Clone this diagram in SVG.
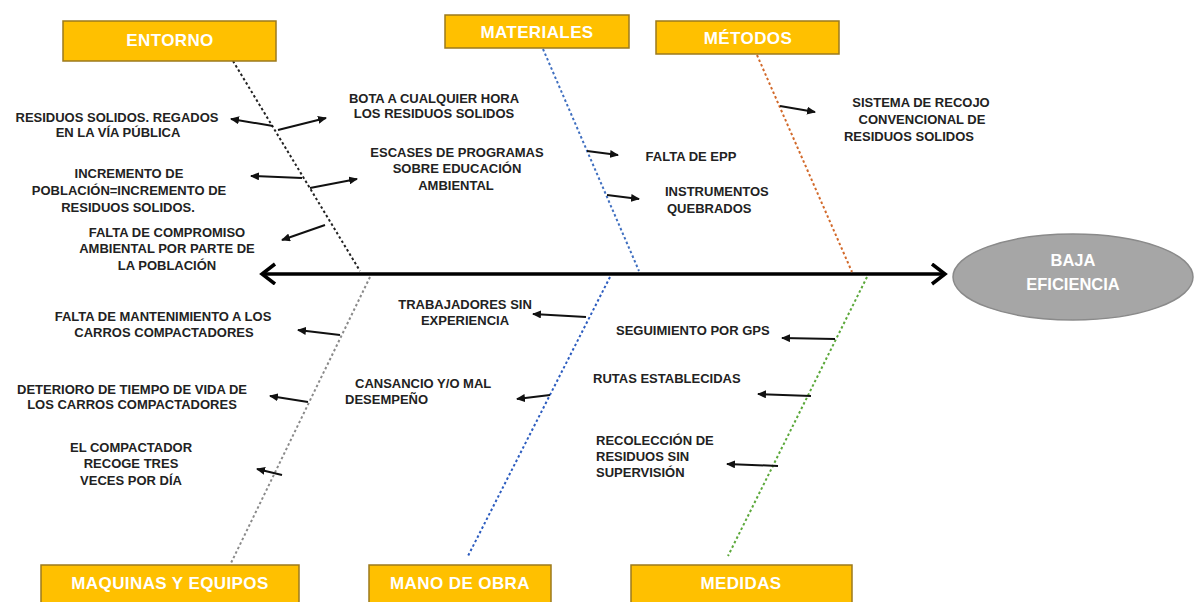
<svg xmlns="http://www.w3.org/2000/svg" width="1195" height="602" viewBox="0 0 1195 602">
<style>
.box{fill:#ffc000;stroke:#9c7a1c;stroke-width:1.5}
.hd{font-family:"Liberation Sans",Arial,sans-serif;font-weight:bold;font-size:17px;fill:#ffffff;text-anchor:middle;letter-spacing:0.4px}
.t{font-family:"Liberation Sans",Arial,sans-serif;font-weight:bold;font-size:13px;fill:#222222}
.c{text-anchor:middle}
.bone{fill:none;stroke-width:2;stroke-dasharray:2.5 2.5}
.arr{fill:none;stroke:#111;stroke-width:2;marker-end:url(#ah)}
.el{font-family:"Liberation Sans",Arial,sans-serif;font-weight:bold;font-size:16.5px;fill:#ffffff;text-anchor:middle}
</style>
<defs>
<marker id="ah" markerUnits="userSpaceOnUse" markerWidth="10" markerHeight="8" refX="8" refY="4" orient="auto">
<path d="M0,0 L9,4 L0,8 z" fill="#111"/>
</marker>
<marker id="big" markerUnits="userSpaceOnUse" markerWidth="20" markerHeight="26" refX="15" refY="11" orient="auto-start-reverse">
<path d="M2,1 L15,11 L2,21" fill="none" stroke="#000" stroke-width="3.5"/>
</marker>
</defs>
<rect width="1195" height="602" fill="#ffffff"/>

<g id="connectors">
<line x1="262" y1="274" x2="945" y2="274" stroke="#000" stroke-width="3.5" marker-start="url(#big)" marker-end="url(#big)"/>
<line class="bone" x1="233" y1="61" x2="360" y2="271" stroke="#222"/>
<line class="bone" x1="543" y1="49" x2="639" y2="271" stroke="#3f6fc0"/>
<line class="bone" x1="757" y1="55" x2="852" y2="272" stroke="#d2692a"/>
<line class="bone" x1="370" y1="277" x2="231" y2="563" stroke="#8a8a8a" stroke-width="1.6"/>
<line class="bone" x1="610" y1="277" x2="468" y2="556" stroke="#2c5cbf"/>
<line class="bone" x1="867" y1="277" x2="728" y2="556" stroke="#5ba83a"/>

<line class="arr" x1="273" y1="126" x2="231" y2="119"/>
<line class="arr" x1="278" y1="130" x2="326" y2="118"/>
<line class="arr" x1="302" y1="178" x2="251" y2="176"/>
<line class="arr" x1="310" y1="188" x2="357" y2="179"/>
<line class="arr" x1="325" y1="225" x2="282" y2="240"/>
<line class="arr" x1="587" y1="151" x2="618" y2="155"/>
<line class="arr" x1="607" y1="195" x2="639" y2="199"/>
<line class="arr" x1="780" y1="106" x2="815" y2="112"/>
<line class="arr" x1="340" y1="335" x2="298" y2="330"/>
<line class="arr" x1="308" y1="402" x2="270" y2="396"/>
<line class="arr" x1="282" y1="475" x2="257" y2="469"/>
<line class="arr" x1="586" y1="317" x2="533" y2="314"/>
<line class="arr" x1="550" y1="395" x2="517" y2="399"/>
<line class="arr" x1="835" y1="339" x2="782" y2="338"/>
<line class="arr" x1="811" y1="396" x2="758" y2="394"/>
<line class="arr" x1="778" y1="466" x2="727" y2="464"/>
</g>

<g id="entorno">
<rect class="box" x="63" y="21" width="213" height="40"/>
<text class="hd" x="170" y="46">ENTORNO</text>
</g>
<g id="materiales">
<rect class="box" x="445" y="15" width="184" height="33"/>
<text class="hd" x="537" y="38">MATERIALES</text>
</g>
<g id="metodos">
<rect class="box" x="656" y="21" width="183" height="33"/>
<text class="hd" x="748" y="44">MÉTODOS</text>
</g>
<g id="maquinas">
<rect class="box" x="41" y="565" width="258" height="40"/>
<text class="hd" x="170" y="589">MAQUINAS Y EQUIPOS</text>
</g>
<g id="mano-de-obra">
<rect class="box" x="369" y="565" width="182" height="40"/>
<text class="hd" x="460" y="589">MANO DE OBRA</text>
</g>
<g id="medidas">
<rect class="box" x="631" y="565" width="221" height="40"/>
<text class="hd" x="741" y="589">MEDIDAS</text>
</g>
<g id="baja-eficiencia">
<ellipse cx="1073" cy="277" rx="120" ry="43" fill="#a6a6a6" stroke="#8a8a8a" stroke-width="1.5"/>
<text class="el" x="1073" y="266">BAJA</text>
<text class="el" x="1073" y="290">EFICIENCIA</text>
</g>

<g id="causa-residuos-regados">
<text class="t c" x="117" y="122">RESIDUOS SOLIDOS. REGADOS</text>
<text class="t c" x="118" y="137">EN LA VÍA PÚBLICA</text>
</g>
<g id="causa-bota">
<text class="t c" x="434" y="103">BOTA A CUALQUIER HORA</text>
<text class="t c" x="434" y="118">LOS RESIDUOS SOLIDOS</text>
</g>
<g id="causa-incremento">
<text class="t c" x="129" y="178">INCREMENTO DE</text>
<text class="t c" x="129" y="195">POBLACIÓN=INCREMENTO DE</text>
<text class="t c" x="128" y="212">RESIDUOS SOLIDOS.</text>
</g>
<g id="causa-compromiso">
<text class="t c" x="167" y="237">FALTA DE COMPROMISO</text>
<text class="t c" x="167" y="253">AMBIENTAL POR PARTE DE</text>
<text class="t c" x="167" y="270">LA POBLACIÓN</text>
</g>
<g id="causa-escases">
<text class="t c" x="457" y="157">ESCASES DE PROGRAMAS</text>
<text class="t c" x="457" y="173">SOBRE EDUCACIÓN</text>
<text class="t c" x="456" y="190">AMBIENTAL</text>
</g>
<g id="causa-epp">
<text class="t c" x="691" y="161">FALTA DE EPP</text>
</g>
<g id="causa-instrumentos">
<text class="t" x="665" y="196">INSTRUMENTOS</text>
<text class="t" x="667" y="213">QUEBRADOS</text>
</g>
<g id="causa-sistema">
<text class="t c" x="921" y="107">SISTEMA DE RECOJO</text>
<text class="t c" x="922" y="124">CONVENCIONAL DE</text>
<text class="t c" x="909" y="141">RESIDUOS SOLIDOS</text>
</g>
<g id="causa-mantenimiento">
<text class="t c" x="163" y="321">FALTA DE MANTENIMIENTO A LOS</text>
<text class="t c" x="164" y="337">CARROS COMPACTADORES</text>
</g>
<g id="causa-deterioro">
<text class="t c" x="132" y="394">DETERIORO DE TIEMPO DE VIDA DE</text>
<text class="t c" x="132" y="409">LOS CARROS COMPACTADORES</text>
</g>
<g id="causa-compactador">
<text class="t c" x="131" y="452">EL COMPACTADOR</text>
<text class="t c" x="131" y="468">RECOGE TRES</text>
<text class="t c" x="131" y="485">VECES POR DÍA</text>
</g>
<g id="causa-trabajadores">
<text class="t c" x="465" y="309">TRABAJADORES SIN</text>
<text class="t c" x="465" y="325">EXPERIENCIA</text>
</g>
<g id="causa-cansancio">
<text class="t" x="355" y="388">CANSANCIO Y/O MAL</text>
<text class="t" x="345" y="404">DESEMPEÑO</text>
</g>
<g id="causa-gps">
<text class="t" x="616" y="335">SEGUIMIENTO POR GPS</text>
</g>
<g id="causa-rutas">
<text class="t" x="593" y="383">RUTAS ESTABLECIDAS</text>
</g>
<g id="causa-recoleccion">
<text class="t" x="596" y="445">RECOLECCIÓN DE</text>
<text class="t" x="596" y="461">RESIDUOS SIN</text>
<text class="t" x="596" y="477">SUPERVISIÓN</text>
</g>
</svg>
